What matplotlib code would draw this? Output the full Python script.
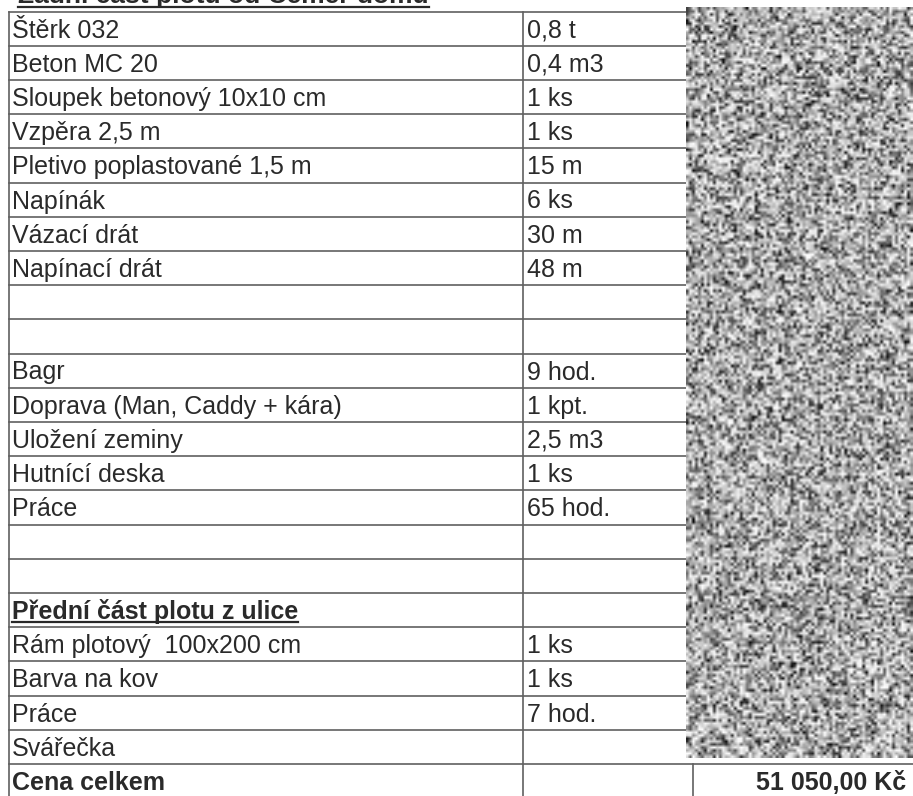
import numpy as np
import matplotlib
matplotlib.use("Agg")
from matplotlib import pyplot as plt

plt.rcParams['font.family'] = ['Liberation Sans', 'DejaVu Sans']

title = "Zadní část plotu od Cemer domu"
items = ["Štěrk 032", "Beton MC 20", "Sloupek betonový 10x10 cm", "Vzpěra 2,5 m",
         "Pletivo poplastované 1,5 m", "Napínák", "Vázací drát", "Napínací drát",
         "", "", "Bagr", "Doprava (Man, Caddy + kára)", "Uložení zeminy",
         "Hutnící deska", "Práce", "", "", "Přední část plotu z ulice",
         "Rám plotový  100x200 cm", "Barva na kov", "Práce", "Svářečka", "Cena celkem"]
amounts = ["0,8 t", "0,4 m3", "1 ks", "1 ks", "15 m", "6 ks", "30 m", "48 m",
           "", "", "9 hod.", "1 kpt.", "2,5 m3", "1 ks", "65 hod.", "", "", "",
           "1 ks", "1 ks", "7 hod.", "", ""]
bold_rows = ["Přední část plotu z ulice", "Cena celkem"]
underlined = ["Přední část plotu z ulice"]
total = "51 050,00 Kč"

W, H = 913, 796
top = 11.5
row_h = 34.2
x_left, x_mid, x_right, x_tot = 8.5, 523, 687, 693
line_c = '#606060'
text_c = '#2a2a2a'

fig = plt.figure(figsize=(W / 100, H / 100), dpi=100)
ax = fig.add_axes([0, 0, 1, 1])
ax.set_xlim(0, W)
ax.set_ylim(H, 0)
ax.axis('off')

n = len(items)
# horizontal rules
for i in range(n + 1):
    y = top + i * row_h
    xr = W if i >= n - 1 else x_right
    ax.plot([x_left, xr], [y, y], color=line_c, lw=1.2)
# vertical rules
ax.plot([x_left, x_left], [top, H], color=line_c, lw=1.2)
ax.plot([x_mid, x_mid], [top, H], color=line_c, lw=1.2)
ax.plot([x_tot, x_tot], [top + (n - 1) * row_h, H], color=line_c, lw=1.2)

fs = 18
for i, (name, amt) in enumerate(zip(items, amounts)):
    yb = top + i * row_h + 26
    weight = 'bold' if name in bold_rows else 'normal'
    t = ax.text(12, yb, name, fontsize=fs, color=text_c, fontweight=weight, va='baseline')
    if name in underlined:
        fig.canvas.draw()
        bb = t.get_window_extent().transformed(ax.transData.inverted())
        ax.plot([bb.x0, bb.x1], [yb + 3, yb + 3], color=text_c, lw=1.6)
    ax.text(x_mid + 4, yb, amt, fontsize=fs, color=text_c, va='baseline')

ax.text(906, top + (n - 1) * row_h + 26, total, fontsize=fs, color=text_c,
        fontweight='bold', ha='right', va='baseline')

# cropped heading at the very top
th = ax.text(18, 3, title, fontsize=19, color=text_c, fontweight='bold', va='baseline')
fig.canvas.draw()
bb = th.get_window_extent().transformed(ax.transData.inverted())
ax.plot([bb.x0, bb.x1], [7, 7], color=text_c, lw=1.6)

# redacted block (speckle texture)
rng = np.random.default_rng(3)
speck = rng.random((250, 76)) ** 0.55
ax.imshow(speck, cmap='gray', vmin=0, vmax=1, extent=[686, W, 758, 7],
          aspect='auto', interpolation='bilinear', zorder=5)

fig.savefig("out.png", dpi=100)
